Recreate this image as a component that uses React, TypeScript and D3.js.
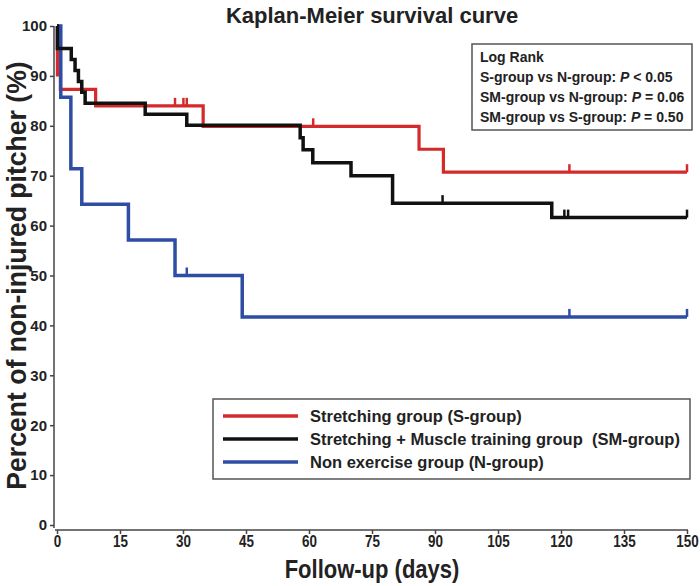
import React, { useEffect, useRef } from 'react';
import * as d3 from 'd3';

// Axis ticks
const xTicks = [0, 15, 30, 45, 60, 75, 90, 105, 120, 135, 150];
const yTicks = [0, 10, 20, 30, 40, 50, 60, 70, 80, 90, 100];

// Stretching group (S-group): step times (days) and survival (%)
const sGroupTime = [0, 0.1, 0.8, 9.2, 34.8, 86.2, 92.0, 150];
const sGroupSurv = [100, 90.2, 87.3, 84.0, 79.9, 75.3, 70.7, 70.7];
const sGroupCensor = [28.1, 30.1, 30.9, 61.0, 122.0, 150];

// Stretching + Muscle training group (SM-group)
const smGroupTime = [0, 0.1, 3.4, 4.3, 5.1, 5.9, 6.7, 21.0, 30.9, 57.9, 58.6, 60.9, 70.0, 79.9, 117.8, 150];
const smGroupSurv = [100, 95.5, 93.3, 91.1, 88.9, 86.7, 84.5, 82.3, 80.1, 77.6, 75.2, 72.6, 70.0, 64.5, 61.6, 61.6];
const smGroupCensor = [91.8, 120.8, 121.7, 150];

// Non exercise group (N-group)
const nGroupTime = [0, 0.9, 3.3, 5.9, 17.0, 28.1, 44.1, 150];
const nGroupSurv = [100, 85.7, 71.4, 64.3, 57.1, 50.0, 41.7, 41.7];
const nGroupCensor = [30.9, 122.0, 150];

const legendLabels = [
  'Stretching group (S-group)',
  'Stretching + Muscle training group  (SM-group)',
  'Non exercise group (N-group)',
];

const logRankLines = [
  { label: 'S-group vs N-group: ', op: '< 0.05' },
  { label: 'SM-group vs N-group: ', op: '= 0.06' },
  { label: 'SM-group vs S-group: ', op: '= 0.50' },
];

const RED = '#d42a2c';
const BLACK = '#111111';
const BLUE = '#2e4ea4';

const FONT = "'Liberation Sans', Arial, sans-serif";

const App: React.FC = () => {
  const svgRef = useRef<SVGSVGElement>(null);

  useEffect(() => {
    if (!svgRef.current) return;
    const svg = d3.select(svgRef.current);
    svg.selectAll('*').remove();

    const x = d3.scaleLinear().domain([0, 150]).range([57, 687]);
    const y = d3.scaleLinear().domain([0, 100]).range([525, 26]);

    const axisColor = '#444';

    // Title
    svg.append('text')
      .attr('x', 372)
      .attr('y', 23)
      .attr('text-anchor', 'middle')
      .attr('font-family', FONT)
      .attr('font-weight', 'bold')
      .attr('font-size', 22)
      .attr('fill', '#222')
      .text('Kaplan-Meier survival curve');

    // Y axis
    const yAxis = svg.append('g')
      .attr('transform', 'translate(54,0)')
      .call(d3.axisLeft(y).tickValues(yTicks).tickSize(4).tickPadding(3));
    yAxis.select('.domain').attr('stroke', axisColor).attr('stroke-width', 1.5)
      .attr('d', `M0,${y(100)}V${y(0) + 3}`);
    yAxis.selectAll('.tick line').attr('stroke', axisColor).attr('stroke-width', 1.5);
    yAxis.selectAll('.tick text')
      .attr('font-family', FONT)
      .attr('font-weight', 'bold')
      .attr('font-size', 15)
      .attr('fill', '#222');

    // X axis (labels slightly condensed)
    const xAxis = svg.append('g')
      .attr('transform', 'translate(0,530)')
      .call(d3.axisBottom(x).tickValues(xTicks).tickSize(4).tickPadding(2));
    xAxis.select('.domain').attr('stroke', axisColor).attr('stroke-width', 1.5)
      .attr('d', `M${x(0) - 2},0H${x(150) + 1}`);
    xAxis.selectAll('.tick line').attr('stroke', axisColor).attr('stroke-width', 1.5);
    xAxis.selectAll('.tick text')
      .attr('font-family', FONT)
      .attr('font-weight', 'bold')
      .attr('font-size', 16)
      .attr('transform', 'scale(0.84,1)')
      .attr('fill', '#222');

    // Axis titles
    svg.append('text')
      .attr('transform', 'translate(372,578) scale(0.88,1)')
      .attr('text-anchor', 'middle')
      .attr('font-family', FONT)
      .attr('font-weight', 'bold')
      .attr('font-size', 25)
      .attr('fill', '#222')
      .text('Follow-up (days)');

    svg.append('text')
      .attr('transform', `translate(26,${(y(0) + y(100)) / 2}) rotate(-90) scale(0.95,1)`)
      .attr('text-anchor', 'middle')
      .attr('font-family', FONT)
      .attr('font-weight', 'bold')
      .attr('font-size', 28)
      .attr('fill', '#222')
      .text('Percent of non-injured pitcher (%)');

    // Survival curves
    const line = d3.line<[number, number]>()
      .x(d => x(d[0]))
      .y(d => y(d[1]))
      .curve(d3.curveStepAfter);

    const series = [
      { time: sGroupTime, surv: sGroupSurv, censor: sGroupCensor, color: RED, width: 3.2 },
      { time: nGroupTime, surv: nGroupSurv, censor: nGroupCensor, color: BLUE, width: 3.5 },
      { time: smGroupTime, surv: smGroupSurv, censor: smGroupCensor, color: BLACK, width: 3.5 },
    ];

    series.forEach(s => {
      const pts = s.time.map((t, i) => [t, s.surv[i]] as [number, number]);
      svg.append('path')
        .datum(pts)
        .attr('fill', 'none')
        .attr('stroke', s.color)
        .attr('stroke-width', s.width)
        .attr('d', line);

      const survAt = (t: number) => {
        const i = d3.bisectRight(s.time, t) - 1;
        return s.surv[Math.max(0, Math.min(i, s.surv.length - 1))];
      };

      svg.append('g')
        .selectAll('line')
        .data(s.censor)
        .join('line')
        .attr('x1', d => x(d))
        .attr('x2', d => x(d))
        .attr('y1', d => y(survAt(d)))
        .attr('y2', d => y(survAt(d)) - 8)
        .attr('stroke', s.color)
        .attr('stroke-width', 2.5);
    });

    // Log rank box
    const lr = svg.append('g').attr('transform', 'translate(472,44)');
    lr.append('rect')
      .attr('width', 220)
      .attr('height', 86)
      .attr('fill', 'white')
      .attr('stroke', '#555')
      .attr('stroke-width', 1.5);
    lr.append('text')
      .attr('x', 8)
      .attr('y', 18)
      .attr('font-family', FONT)
      .attr('font-weight', 'bold')
      .attr('font-size', 14)
      .attr('fill', '#222')
      .text('Log Rank');
    logRankLines.forEach((l, i) => {
      const t = lr.append('text')
        .attr('x', 8)
        .attr('y', 38 + i * 20)
        .attr('font-family', FONT)
        .attr('font-weight', 'bold')
        .attr('font-size', 14)
        .attr('fill', '#222');
      t.append('tspan').text(l.label);
      t.append('tspan').attr('font-style', 'italic').text('P');
      t.append('tspan').text(' ' + l.op);
    });

    // Legend
    const lg = svg.append('g').attr('transform', 'translate(213,399)');
    lg.append('rect')
      .attr('width', 477)
      .attr('height', 80)
      .attr('fill', 'white')
      .attr('stroke', '#555')
      .attr('stroke-width', 1.5);
    const legendColors = [RED, BLACK, BLUE];
    legendLabels.forEach((label, i) => {
      const cy = 17 + i * 23;
      lg.append('line')
        .attr('x1', 10)
        .attr('x2', 85)
        .attr('y1', cy)
        .attr('y2', cy)
        .attr('stroke', legendColors[i])
        .attr('stroke-width', 3.5);
      lg.append('text')
        .attr('x', 97)
        .attr('y', cy)
        .attr('dy', '0.35em')
        .attr('font-family', FONT)
        .attr('font-weight', 'bold')
        .attr('font-size', 16.5)
        .attr('fill', '#222')
        .style('white-space', 'pre')
        .text(label);
    });
  }, []);

  return (
    <div style={{ position: 'absolute', left: 0, top: 0, width: 700, height: 586, background: 'white' }}>
      <svg ref={svgRef} width={700} height={586} />
    </div>
  );
};

export default App;
